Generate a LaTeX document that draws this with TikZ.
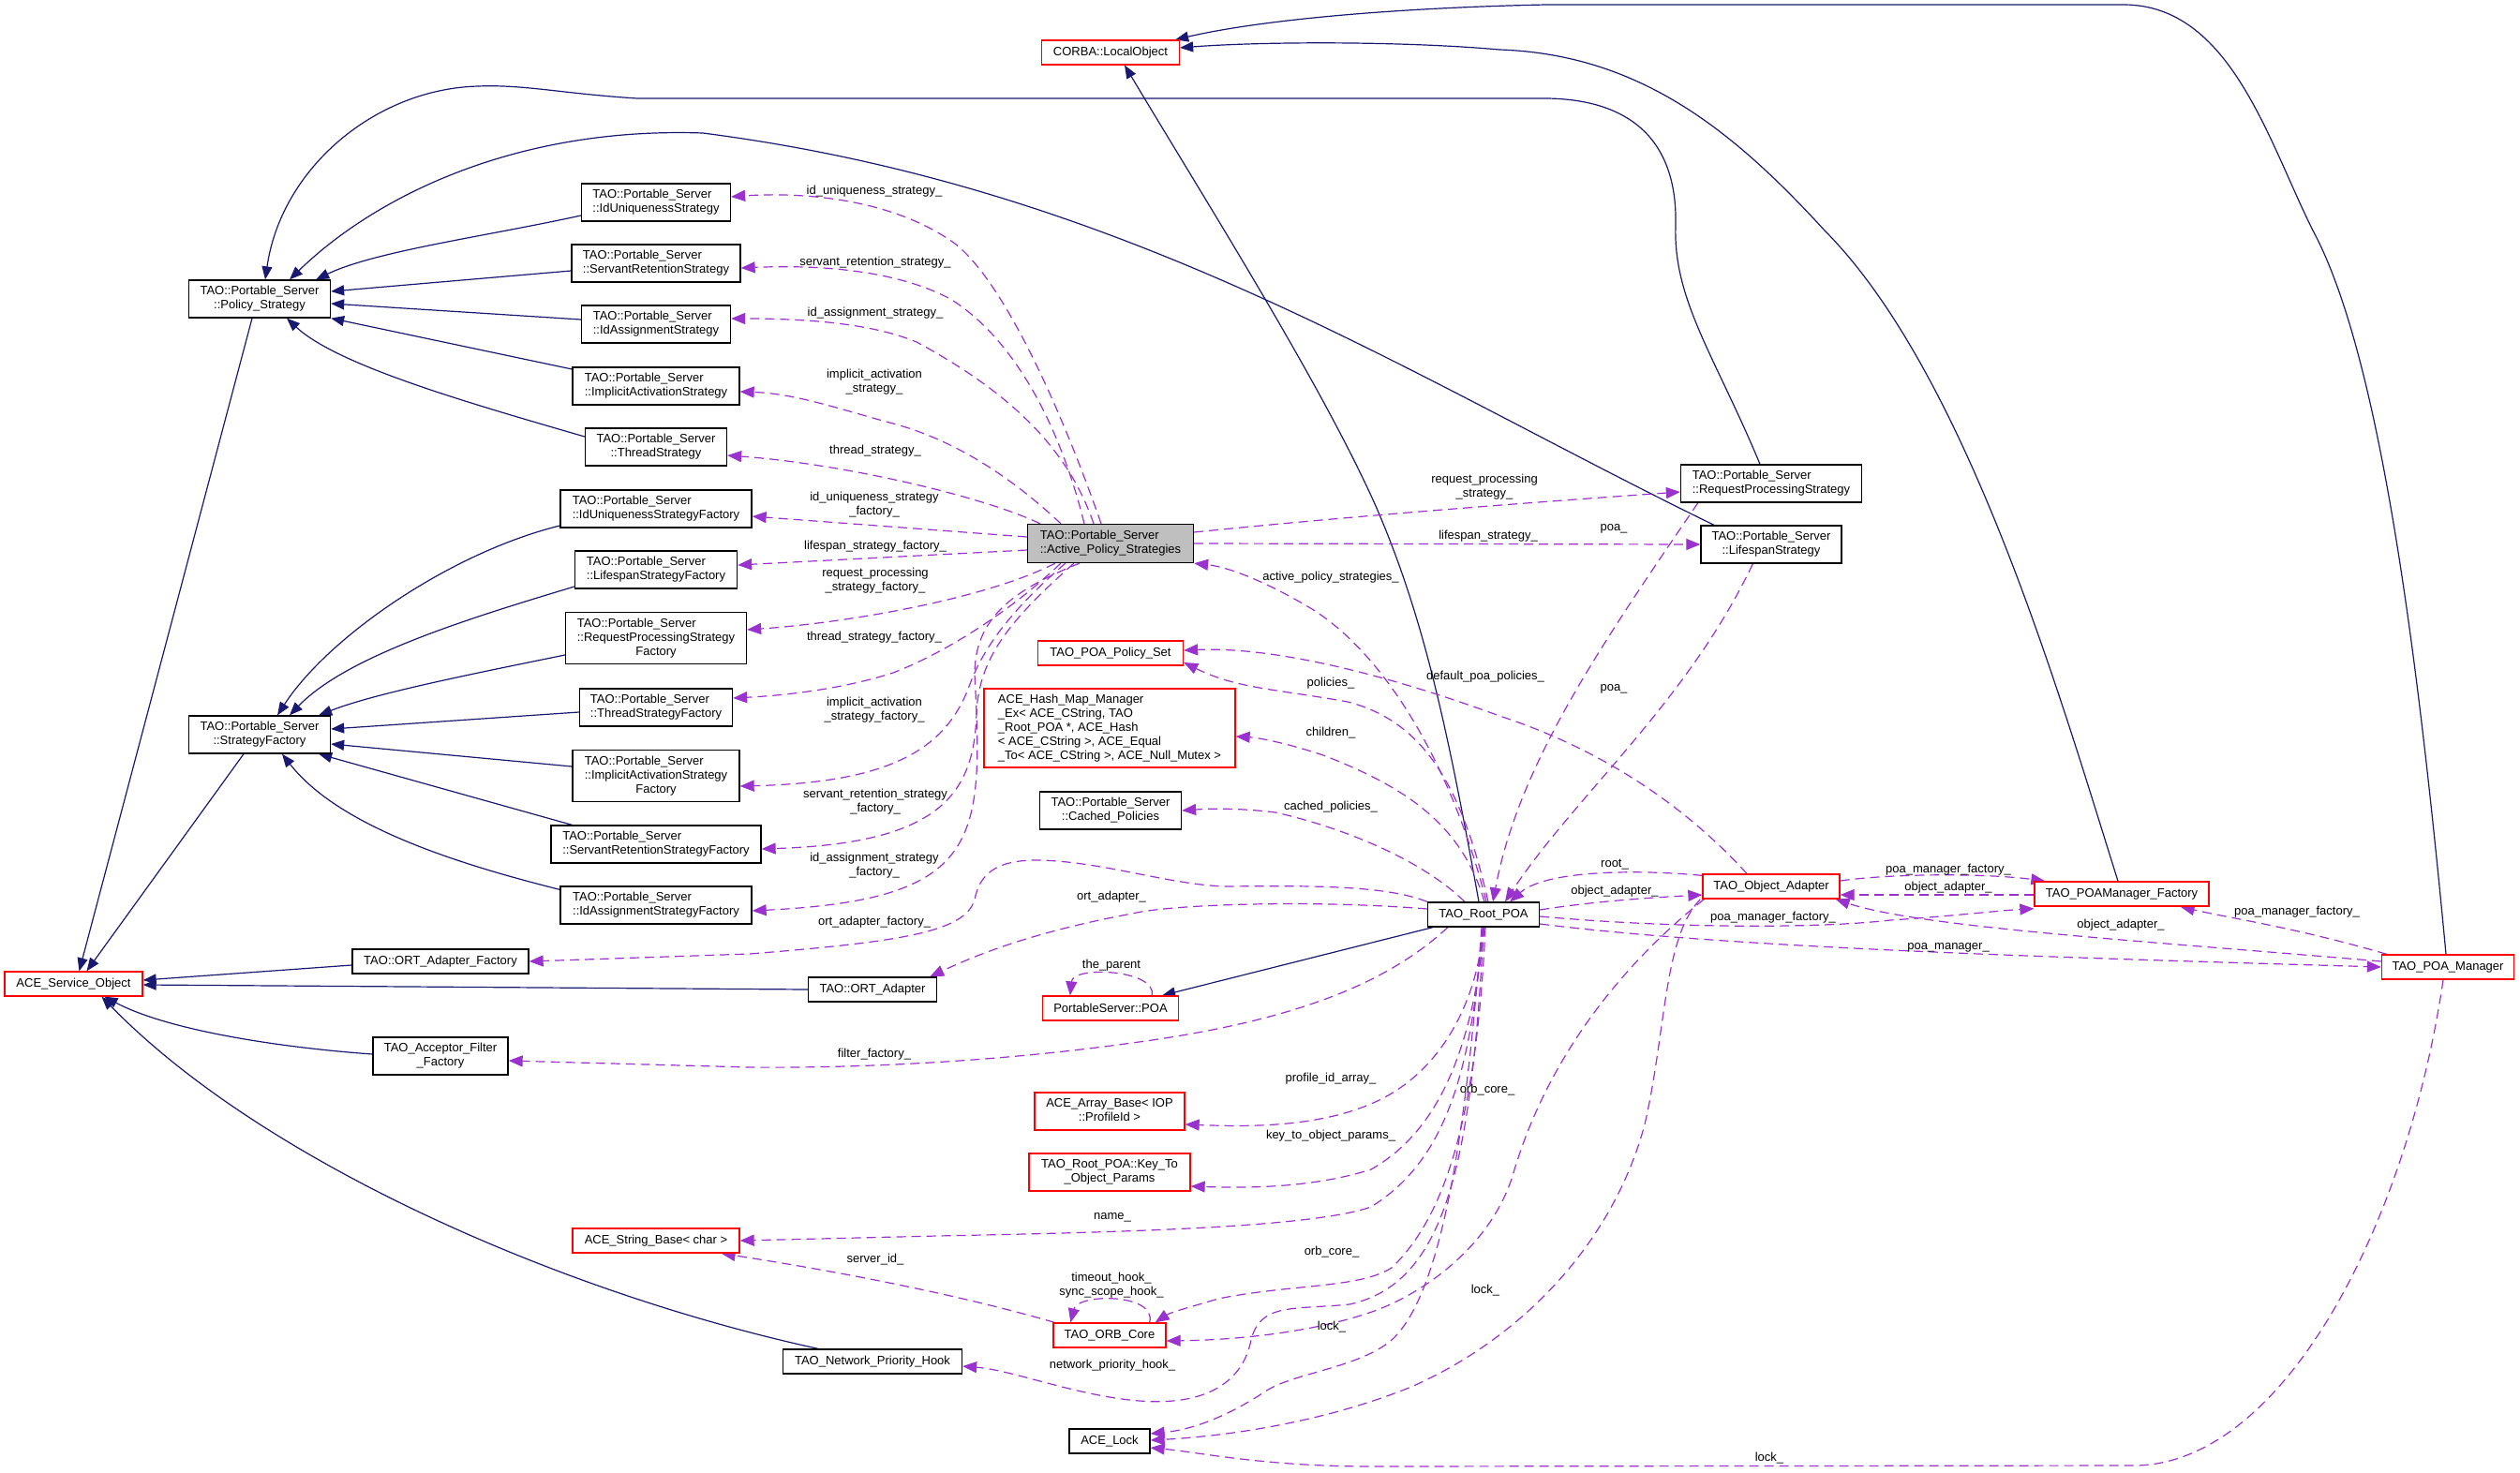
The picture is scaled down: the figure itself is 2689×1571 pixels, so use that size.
\documentclass[tikz,border=0pt]{standalone}
\usepackage{fontspec}
\setmainfont{Liberation Sans}
\usetikzlibrary{arrows.meta,calc}
\definecolor{navyc}{HTML}{191970}
\definecolor{purpc}{HTML}{9A32CD}
\definecolor{greyc}{HTML}{BFBFBF}
\newcommand{\twol}[2]{\begin{tabular}{@{}l@{}}#1\\\multicolumn{1}{@{}c@{}}{#2}\end{tabular}}
\newcommand{\threel}[3]{\begin{tabular}{@{}l@{}}#1\\#2\\\multicolumn{1}{@{}c@{}}{#3}\end{tabular}}
\pgfdeclarelayer{background}
\pgfsetlayers{background,main}
\begin{document}
\begin{tikzpicture}[x=1pt,y=-1pt,
  cbox/.style={draw=black, line width=1.3pt, fill=white, inner sep=0pt, font=\fontsize{13}{15}\selectfont},
  rbox/.style={cbox, draw=red},
  inhedge/.style={draw=navyc, line width=1.2pt, -{Triangle[length=14pt,width=11pt]}},
  usedge/.style={draw=purpc, line width=1.2pt, dash pattern=on 10pt off 6pt, -{Triangle[length=15pt,width=12pt]}},
  lbl/.style={font=\fontsize{13}{15}\selectfont, align=center, inner sep=0pt}]
\useasboundingbox (0,0) rectangle (2689,1571);

% ---------- nodes ----------
\node[cbox, minimum width=151pt, minimum height=40pt] (n_ps) at (277,319) {\twol{TAO::Portable\_Server}{::Policy\_Strategy}};
\node[cbox, minimum width=151pt, minimum height=40pt] (n_sf) at (277,784) {\twol{TAO::Portable\_Server}{::StrategyFactory}};
\node[rbox, minimum width=147pt, minimum height=26pt] (n_aso) at (78.5,1050) {ACE\_Service\_Object};
\node[cbox, minimum width=159pt, minimum height=40pt] (n_ids) at (700,216) {\twol{TAO::Portable\_Server}{::IdUniquenessStrategy}};
\node[cbox, minimum width=180pt, minimum height=40pt] (n_srs) at (700,281) {\twol{TAO::Portable\_Server}{::ServantRetentionStrategy}};
\node[cbox, minimum width=159pt, minimum height=40pt] (n_ias) at (700,346) {\twol{TAO::Portable\_Server}{::IdAssignmentStrategy}};
\node[cbox, minimum width=178pt, minimum height=40pt] (n_iacs) at (700,412) {\twol{TAO::Portable\_Server}{::ImplicitActivationStrategy}};
\node[cbox, minimum width=151pt, minimum height=40pt] (n_ts) at (700,477) {\twol{TAO::Portable\_Server}{::ThreadStrategy}};
\node[cbox, minimum width=204pt, minimum height=40pt] (n_idsf) at (700,543) {\twol{TAO::Portable\_Server}{::IdUniquenessStrategyFactory}};
\node[cbox, minimum width=173pt, minimum height=40pt] (n_lsf) at (700,608) {\twol{TAO::Portable\_Server}{::LifespanStrategyFactory}};
\node[cbox, minimum width=193pt, minimum height=55pt] (n_rpsf) at (700,681) {\threel{TAO::Portable\_Server}{::RequestProcessingStrategy}{Factory}};
\node[cbox, minimum width=163pt, minimum height=40pt] (n_tsf) at (700,755) {\twol{TAO::Portable\_Server}{::ThreadStrategyFactory}};
\node[cbox, minimum width=178pt, minimum height=55pt] (n_iasf) at (700,828) {\threel{TAO::Portable\_Server}{::ImplicitActivationStrategy}{Factory}};
\node[cbox, minimum width=224pt, minimum height=40pt] (n_srsf) at (700,901) {\twol{TAO::Portable\_Server}{::ServantRetentionStrategyFactory}};
\node[cbox, minimum width=204pt, minimum height=40pt] (n_idasf) at (700,966) {\twol{TAO::Portable\_Server}{::IdAssignmentStrategyFactory}};
\node[cbox, minimum width=188pt, minimum height=26pt] (n_oaf) at (470,1026) {TAO::ORT\_Adapter\_Factory};
\node[cbox, minimum width=137pt, minimum height=26pt] (n_oa) at (931,1056) {TAO::ORT\_Adapter};
\node[cbox, minimum width=144pt, minimum height=40pt] (n_aff) at (470,1127) {\twol{TAO\_Acceptor\_Filter}{\_Factory}};
\node[rbox, minimum width=178pt, minimum height=26pt] (n_str) at (700,1324) {ACE\_String\_Base< char >};
\node[cbox, minimum width=191pt, minimum height=26pt] (n_nph) at (931,1453) {TAO\_Network\_Priority\_Hook};
\node[rbox, minimum width=147pt, minimum height=26pt] (n_lo) at (1185,56) {CORBA::LocalObject};
\node[cbox, fill=greyc, minimum width=177pt, minimum height=41pt] (n_aps) at (1185,580) {\twol{TAO::Portable\_Server}{::Active\_Policy\_Strategies}};
\node[rbox, minimum width=155pt, minimum height=26pt] (n_pset) at (1185,697) {TAO\_POA\_Policy\_Set};
\node[rbox, minimum width=268pt, minimum height=84pt] (n_hash) at (1184,777) {\begin{tabular}{@{}l@{}}ACE\_Hash\_Map\_Manager\\\_Ex< ACE\_CString, TAO\\\_Root\_POA *, ACE\_Hash\\< ACE\_CString >, ACE\_Equal\\\_To< ACE\_CString >, ACE\_Null\_Mutex >\end{tabular}};
\node[cbox, minimum width=151pt, minimum height=40pt] (n_cp) at (1185,865) {\twol{TAO::Portable\_Server}{::Cached\_Policies}};
\node[cbox, minimum width=119pt, minimum height=26pt] (n_root) at (1583,976) {TAO\_Root\_POA};
\node[rbox, minimum width=145pt, minimum height=26pt] (n_psp) at (1185,1076) {PortableServer::POA};
\node[rbox, minimum width=160pt, minimum height=40pt] (n_arr) at (1184,1186) {\twol{ACE\_Array\_Base< IOP}{::ProfileId >}};
\node[rbox, minimum width=172pt, minimum height=40pt] (n_key) at (1184,1251) {\twol{TAO\_Root\_POA::Key\_To}{\_Object\_Params}};
\node[rbox, minimum width=120pt, minimum height=26pt] (n_orb) at (1184,1425) {TAO\_ORB\_Core};
\node[cbox, minimum width=86pt, minimum height=26pt] (n_lock) at (1184,1538) {ACE\_Lock};
\node[cbox, minimum width=193pt, minimum height=40pt] (n_rps) at (1890,516) {\twol{TAO::Portable\_Server}{::RequestProcessingStrategy}};
\node[cbox, minimum width=150pt, minimum height=40pt] (n_ls) at (1890,581) {\twol{TAO::Portable\_Server}{::LifespanStrategy}};
\node[rbox, minimum width=146pt, minimum height=26pt] (n_oad) at (1890,946) {TAO\_Object\_Adapter};
\node[rbox, minimum width=186pt, minimum height=26pt] (n_pmf) at (2264,954) {TAO\_POAManager\_Factory};
\node[rbox, minimum width=141pt, minimum height=26pt] (n_pm) at (2612,1032) {TAO\_POA\_Manager};

% ---------- labels ----------
\node[lbl] (l1) at (933,204) {id\_uniqueness\_strategy\_};
\node[lbl] (l2) at (934,280) {servant\_retention\_strategy\_};
\node[lbl] (l3) at (934,334) {id\_assignment\_strategy\_};
\node[lbl] (l4) at (933,407.5) {implicit\_activation\\\_strategy\_};
\node[lbl] (l5) at (934,481) {thread\_strategy\_};
\node[lbl] (l6) at (933,539) {id\_uniqueness\_strategy\\\_factory\_};
\node[lbl] (l7) at (934,583) {lifespan\_strategy\_factory\_};
\node[lbl] (l8) at (934,620) {request\_processing\\\_strategy\_factory\_};
\node[lbl] (l9) at (933,680) {thread\_strategy\_factory\_};
\node[lbl] (l10) at (933,758) {implicit\_activation\\\_strategy\_factory\_};
\node[lbl] (l11) at (934,856) {servant\_retention\_strategy\\\_factory\_};
\node[lbl] (l12) at (933,924) {id\_assignment\_strategy\\\_factory\_};
\node[lbl] (l13) at (1584,520) {request\_processing\\\_strategy\_};
\node[lbl] (l14) at (1588,572) {lifespan\_strategy\_};
\node[lbl] (l15) at (1420,616) {active\_policy\_strategies\_};
\node[lbl] (l16) at (1420,729) {policies\_};
\node[lbl] (l17) at (1585,722) {default\_poa\_policies\_};
\node[lbl] (l18) at (1420,782) {children\_};
\node[lbl] (l19) at (1420,861) {cached\_policies\_};
\node[lbl] (l20) at (933,984) {ort\_adapter\_factory\_};
\node[lbl] (l21) at (1186,957) {ort\_adapter\_};
\node[lbl] (l22) at (933,1125) {filter\_factory\_};
\node[lbl] (l23) at (1186,1030) {the\_parent};
\node[lbl] (l24) at (1420,1151) {profile\_id\_array\_};
\node[lbl] (l25) at (1420,1212) {key\_to\_object\_params\_};
\node[lbl] (l26) at (1187,1299) {name\_};
\node[lbl] (l27) at (934,1344) {server\_id\_};
\node[lbl] (l28) at (1186,1372) {timeout\_hook\_\\sync\_scope\_hook\_};
\node[lbl] (l29) at (1421,1336) {orb\_core\_};
\node[lbl] (l30) at (1587,1163) {orb\_core\_};
\node[lbl] (l31) at (1421,1416) {lock\_};
\node[lbl] (l32) at (1585,1377) {lock\_};
\node[lbl] (l33) at (1888,1556) {lock\_};
\node[lbl] (l34) at (1187,1457) {network\_priority\_hook\_};
\node[lbl] (l35) at (1723,951) {object\_adapter\_};
\node[lbl] (l36) at (1723,923) {root\_};
\node[lbl] (l37) at (1722,564) {poa\_};
\node[lbl] (l38) at (1722,735) {poa\_};
\node[lbl] (l39) at (1892,979) {poa\_manager\_factory\_};
\node[lbl] (l40) at (2079,1011) {poa\_manager\_};
\node[lbl] (l41) at (2079,928) {poa\_manager\_factory\_};
\node[lbl] (l42) at (2079,947) {object\_adapter\_};
\node[lbl] (l43) at (2263,987) {object\_adapter\_};
\node[lbl] (l44) at (2451,973) {poa\_manager\_factory\_};

\begin{pgfonlayer}{background}
\fill[white] (0,0) rectangle (2689,1571);
% ---------- inheritance ----------
\draw[inhedge] ($(n_ps.south)+(-8,0)$) -- ($(n_aso.north)+(6,0)$);
\draw[inhedge] ($(n_sf.south)+(-17,0)$) -- ($(n_aso.north)+(14,0)$);
\draw[inhedge] ($(n_oaf.west)+(0,4)$) -- ($(n_aso.east)+(0,-4)$);
\draw[inhedge] (n_oa.west) -- ($(n_aso.east)+(0,1)$);
\draw[inhedge] ($(n_aff.west)+(0,-2)$) .. controls (300,1118) and (180,1100) .. ($(n_aso.south)+(33,0)$);
\draw[inhedge] ($(n_nph.north)+(-58,0)$) .. controls (600,1380) and (280,1240) .. ($(n_aso.south)+(30,0)$);
\draw[inhedge] ($(n_ids.west)+(0,14)$) .. controls (520,252) and (400,268) .. ($(n_ps.north east)+(-16,0)$);
\draw[inhedge] ($(n_srs.west)+(0,8)$) -- ($(n_ps.east)+(0,-8)$);
\draw[inhedge] ($(n_ias.west)+(0,-5)$) -- ($(n_ps.east)+(0,5)$);
\draw[inhedge] ($(n_iacs.west)+(0,-18)$) -- (n_ps.south east);
\draw[inhedge] ($(n_ts.west)+(0,-11)$) .. controls (500,430) and (360,390) .. ($(n_ps.south)+(29,0)$);
\draw[inhedge] ($(n_rps.north)+(-12,0)$) .. controls (1830,380) and (1785,320) .. (1788,240) .. controls (1790,150) and (1740,106) .. (1650,105) -- (680,105) .. controls (600,100) and (560,90) .. (510,92) .. controls (400,95) and (300,180) .. ($(n_ps.north)+(6,0)$);
\draw[inhedge] ($(n_ls.north)+(-61,0)$) .. controls (1500,400) and (1200,200) .. (750,142) .. controls (550,135) and (400,210) .. ($(n_ps.north)+(32,0)$);
\draw[inhedge] ($(n_idsf.west)+(0,18)$) .. controls (480,590) and (350,680) .. ($(n_sf.north)+(19,0)$);
\draw[inhedge] ($(n_lsf.west)+(0,18)$) .. controls (500,660) and (370,700) .. ($(n_sf.north)+(32,0)$);
\draw[inhedge] ($(n_rpsf.west)+(0,18)$) .. controls (500,720) and (400,740) .. ($(n_sf.north east)+(-13,0)$);
\draw[inhedge] ($(n_tsf.west)+(0,5)$) -- ($(n_sf.east)+(0,-6)$);
\draw[inhedge] ($(n_iasf.west)+(0,-10)$) -- ($(n_sf.east)+(0,10)$);
\draw[inhedge] ($(n_srsf.north west)+(23,0)$) -- ($(n_sf.south east)+(-13,0)$);
\draw[inhedge] ($(n_idasf.north west)+(0,4)$) .. controls (480,920) and (360,880) .. ($(n_sf.south)+(24,0)$);
\draw[inhedge] ($(n_root.north)+(-5,0)$) .. controls (1545,780) and (1520,660) .. (1468,540) .. controls (1410,410) and (1290,220) .. ($(n_lo.south)+(15,0)$);
\draw[inhedge] ($(n_pmf.north)+(-4,0)$) .. controls (2200,750) and (2100,400) .. (1947,246) .. controls (1850,140) and (1750,58) .. (1600,53) .. controls (1500,44) and (1350,44) .. ($(n_lo.east)+(0,-5)$);
\draw[inhedge] ($(n_pm.north)+(-2,0)$) .. controls (2580,700) and (2540,380) .. (2468,246) .. controls (2420,150) and (2380,6) .. (2267,5) -- (1650,5) .. controls (1500,8) and (1350,20) .. ($(n_lo.north east)+(-5,0)$);
\draw[inhedge] ($(n_root.south west)+(6,0)$) -- ($(n_psp.north east)+(-18,0)$);

% ---------- usage ----------
\draw[usedge] ($(n_aps.north)+(-10,0)$) .. controls (1130,430) and (1070,300) .. (1019,260) .. controls (950,210) and (850,205) .. ($(n_ids.east)+(0,-6)$);
\draw[usedge] ($(n_aps.north)+(-28,0)$) .. controls (1130,450) and (1080,360) .. (1014,319) .. controls (950,285) and (860,283) .. ($(n_srs.east)+(0,5)$);
\draw[usedge] ($(n_aps.north)+(-18,0)$) .. controls (1140,480) and (1080,420) .. (978,365) .. controls (930,345) and (860,340) .. ($(n_ias.east)+(0,-6)$);
\draw[usedge] ($(n_aps.north)+(-53,0)$) .. controls (1080,510) and (1020,470) .. (953,452) .. controls (900,438) and (850,420) .. ($(n_iacs.east)+(0,6)$);
\draw[usedge] ($(n_aps.north west)+(14,0)$) .. controls (1050,530) and (900,495) .. ($(n_ts.east)+(0,9)$);
\draw[usedge] ($(n_aps.west)+(0,-7)$) -- ($(n_idsf.east)+(0,8)$);
\draw[usedge] ($(n_aps.west)+(0,7)$) -- ($(n_lsf.east)+(0,-5)$);
\draw[usedge] ($(n_aps.south west)+(30,0)$) .. controls (1050,640) and (900,665) .. ($(n_rpsf.east)+(0,-9)$);
\draw[usedge] ($(n_aps.south west)+(36,0)$) .. controls (1070,660) and (1000,700) .. (953,718) .. controls (900,735) and (840,742) .. ($(n_tsf.east)+(0,-10)$);
\draw[usedge] ($(n_aps.south west)+(41,0)$) .. controls (1080,650) and (1050,690) .. (1035,730) .. controls (1010,800) and (950,835) .. ($(n_iasf.east)+(0,11)$);
\draw[usedge] ($(n_aps.south west)+(50,0)$) .. controls (1080,660) and (1045,700) .. (1042,760) .. controls (1040,850) and (1000,900) .. ($(n_srsf.east)+(0,5)$);
\draw[usedge] ($(n_aps.south west)+(56,0)$) .. controls (1080,630) and (1040,660) .. (1040,720) .. controls (1050,900) and (1045,960) .. ($(n_idasf.east)+(0,6)$);
\draw[usedge] ($(n_aps.east)+(0,-12)$) .. controls (1450,550) and (1650,535) .. ($(n_rps.west)+(0,9)$);
\draw[usedge] (n_aps.east) -- (n_ls.west);
\draw[usedge] ($(n_root.north)+(3,0)$) .. controls (1550,820) and (1480,700) .. (1400,650) .. controls (1350,620) and (1310,605) .. (n_aps.south east);
\draw[usedge] ($(n_root.north)+(5,0)$) .. controls (1560,840) and (1520,770) .. (1438,749) .. controls (1360,735) and (1320,735) .. ($(n_pset.east)+(0,10)$);
\draw[usedge] ($(n_oad.north)+(-26,0)$) .. controls (1780,840) and (1680,790) .. (1600,764) .. controls (1480,720) and (1360,690) .. ($(n_pset.east)+(0,-3)$);
\draw[usedge] ($(n_root.north)+(1,0)$) .. controls (1560,880) and (1500,840) .. (1412,806) .. controls (1370,792) and (1340,787) .. ($(n_hash.east)+(0,9)$);
\draw[usedge] ($(n_root.north west)+(40,0)$) .. controls (1520,920) and (1440,885) .. (1361,867) .. controls (1320,862) and (1290,863) .. (n_cp.east);
\draw[usedge] (n_root.north west) .. controls (1480,945) and (1400,945) .. (1310,946) .. controls (1250,945) and (1180,920) .. (1110,918) .. controls (1060,917) and (1045,935) .. (1040,960) .. controls (1030,995) and (960,1005) .. (800,1018) -- (n_oaf.east);
\draw[usedge] ($(n_root.west)+(0,-6)$) .. controls (1400,960) and (1250,965) .. (1208,975) .. controls (1100,995) and (1040,1020) .. ($(n_oa.north east)+(-8,0)$);
\draw[usedge] ($(n_root.south west)+(22,0)$) .. controls (1480,1050) and (1380,1090) .. (1208,1113) .. controls (1050,1135) and (900,1140) .. (800,1139) -- ($(n_aff.east)+(0,5)$);
\draw[usedge] ($(n_psp.north east)+(-29,0)$) .. controls (1235,1035) and (1145,1030) .. ($(n_psp.north west)+(30,0)$);
\draw[usedge] (n_root.south) .. controls (1575,1080) and (1530,1150) .. (1463,1178) .. controls (1400,1205) and (1320,1202) .. ($(n_arr.east)+(0,14)$);
\draw[usedge] ($(n_root.south)+(1,0)$) .. controls (1570,1130) and (1530,1210) .. (1463,1248) .. controls (1400,1268) and (1330,1268) .. ($(n_key.east)+(0,15)$);
\draw[usedge] ($(n_root.south)+(-1,0)$) .. controls (1570,1150) and (1540,1240) .. (1463,1288) .. controls (1400,1310) and (1200,1315) .. (1000,1319) -- (n_str.east);
\draw[usedge] ($(n_orb.north west)+(2,0)$) .. controls (1000,1375) and (850,1350) .. ($(n_str.south east)+(-20,0)$);
\draw[usedge] ($(n_orb.north east)+(-18,0)$) .. controls (1235,1380) and (1150,1380) .. ($(n_orb.north west)+(19,0)$);
\draw[usedge] ($(n_root.south)+(2,0)$) .. controls (1575,1200) and (1540,1300) .. (1485,1353) .. controls (1450,1375) and (1380,1370) .. (1300,1386) .. controls (1270,1395) and (1250,1400) .. ($(n_orb.north east)+(-12,0)$);
\draw[usedge] ($(n_oad.south west)+(2,0)$) .. controls (1730,1030) and (1650,1130) .. (1614,1255) .. controls (1590,1330) and (1520,1380) .. (1464,1400) .. controls (1400,1422) and (1320,1430) .. ($(n_orb.east)+(0,6)$);
\draw[usedge] ($(n_root.south)+(-2,0)$) .. controls (1565,1200) and (1540,1380) .. (1485,1430) .. controls (1450,1460) and (1380,1465) .. (1350,1485) .. controls (1320,1505) and (1280,1525) .. ($(n_lock.east)+(0,-8)$);
\draw[usedge] ($(n_oad.south west)+(-2,0)$) .. controls (1775,1000) and (1778,1100) .. (1755,1200) .. controls (1720,1330) and (1620,1430) .. (1506,1480) .. controls (1420,1515) and (1320,1532) .. ($(n_lock.east)+(0,-1)$);
\draw[usedge] ($(n_pm.south)+(-5,0)$) .. controls (2570,1300) and (2440,1560) .. (2280,1564) -- (1464,1565) .. controls (1350,1565) and (1280,1550) .. ($(n_lock.east)+(0,7)$);
\draw[usedge] (n_root.south) .. controls (1570,1250) and (1540,1370) .. (1440,1392) .. controls (1380,1398) and (1345,1390) .. (1335,1430) .. controls (1325,1480) and (1280,1500) .. (1216,1495) .. controls (1150,1490) and (1080,1462) .. ($(n_nph.east)+(0,5)$);
\draw[usedge] ($(n_root.east)+(0,-5)$) .. controls (1700,962) and (1760,958) .. ($(n_oad.west)+(0,9)$);
\draw[usedge] ($(n_oad.north west)+(0,2)$) .. controls (1750,928) and (1650,928) .. ($(n_root.north east)+(-32,0)$);
\draw[usedge] ($(n_rps.south west)+(19,0)$) .. controls (1700,700) and (1620,820) .. ($(n_root.north)+(10,0)$);
\draw[usedge] ($(n_ls.south west)+(56,0)$) .. controls (1800,750) and (1680,850) .. ($(n_root.north)+(23,0)$);
\draw[usedge] ($(n_root.east)+(0,2)$) .. controls (1800,992) and (1950,990) .. (2017,982) .. controls (2080,978) and (2130,972) .. ($(n_pmf.south west)+(0,2)$);
\draw[usedge] ($(n_root.east)+(0,10)$) .. controls (1850,1012) and (2200,1022) .. (n_pm.west);
\draw[usedge] ($(n_oad.east)+(0,-6)$) .. controls (2020,932) and (2120,932) .. ($(n_pmf.north west)+(12,0)$);
\draw[usedge] ($(n_pmf.west)+(0,1)$) -- ($(n_oad.east)+(0,9)$);
\draw[usedge] ($(n_pm.west)+(0,-6)$) .. controls (2300,1005) and (2050,990) .. ($(n_oad.south east)+(-5,0)$);
\draw[usedge] ($(n_pm.north west)+(6,0)$) .. controls (2450,990) and (2380,980) .. ($(n_pmf.south east)+(-31,0)$);
\end{pgfonlayer}
\end{tikzpicture}
\end{document}
